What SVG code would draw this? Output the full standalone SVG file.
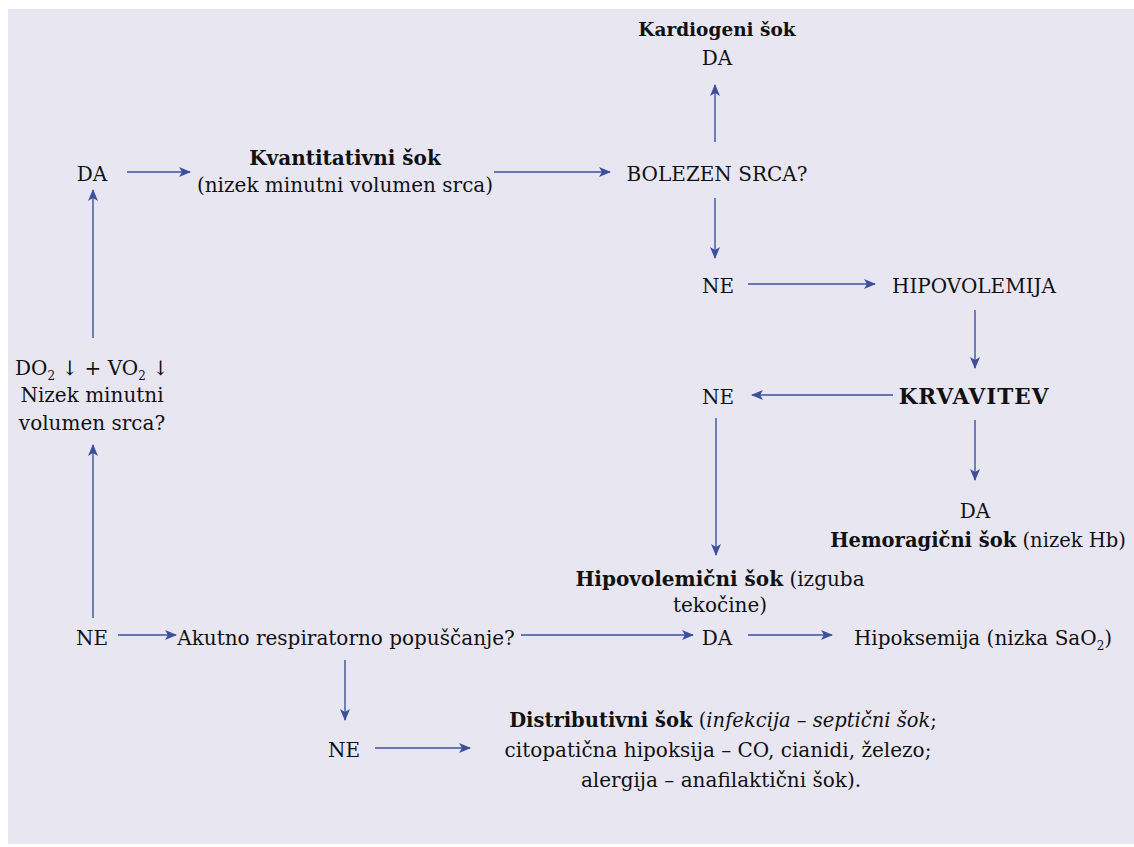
<svg xmlns="http://www.w3.org/2000/svg" width="1134" height="847" viewBox="0 0 1134 847">
<defs>
<marker id="ah" viewBox="0 0 12 10" markerWidth="12" markerHeight="10" refX="11" refY="5" orient="auto" markerUnits="userSpaceOnUse">
<path d="M0,0 L12,5 L0,10 L3,5 z" fill="#3c4f9f"/>
</marker>
<style>
text{font-family:"DejaVu Serif","Liberation Serif",serif;font-size:20px;fill:#111;text-anchor:middle}
.b{font-weight:bold}
.i{font-style:italic}
.s{font-size:12px}
.c line{stroke:#3c4f9f;stroke-width:1.4;marker-end:url(#ah)}
</style>
</defs>
<rect x="0" y="0" width="1134" height="847" fill="#ffffff"/>
<rect x="8" y="9" width="1126" height="835" fill="#e8e6f1"/>
<g class="c" id="connectors">
<line x1="715" y1="142" x2="715" y2="85"/>
<line x1="715" y1="198" x2="715" y2="258"/>
<line x1="748" y1="284" x2="875" y2="284"/>
<line x1="975" y1="310" x2="975" y2="368"/>
<line x1="893" y1="395" x2="752" y2="395"/>
<line x1="716" y1="418" x2="716" y2="555"/>
<line x1="975" y1="420" x2="975" y2="480"/>
<line x1="93" y1="618" x2="93" y2="445"/>
<line x1="93" y1="338" x2="93" y2="190"/>
<line x1="127" y1="172" x2="190" y2="172"/>
<line x1="494" y1="172" x2="610" y2="172"/>
<line x1="118" y1="635" x2="176" y2="635"/>
<line x1="521" y1="635" x2="693" y2="635"/>
<line x1="748" y1="635" x2="832" y2="635"/>
<line x1="345" y1="660" x2="345" y2="720"/>
<line x1="375" y1="748" x2="470" y2="748"/>
</g>
<g id="kardiogeni"><text x="717" y="36" class="b" style="font-size:18.5px">Kardiogeni šok</text><text x="717" y="65">DA</text></g>
<g id="bolezen"><text x="717" y="181">BOLEZEN SRCA?</text></g>
<g id="ne1"><text x="718" y="293">NE</text></g>
<g id="hipovolemija"><text x="974" y="293">HIPOVOLEMIJA</text></g>
<g id="krvavitev"><text x="974" y="404" class="b" style="font-size:21.5px;letter-spacing:1px">KRVAVITEV</text></g>
<g id="ne2"><text x="718" y="404">NE</text></g>
<g id="hemoragicni"><text x="975" y="518">DA</text><text x="978" y="547" style="font-size:19.5px"><tspan class="b">Hemoragični šok</tspan> (nizek Hb)</text></g>
<g id="hipovolemicni"><text x="720" y="586"><tspan class="b">Hipovolemični šok</tspan> (izguba</text><text x="720" y="612">tekočine)</text></g>
<g id="da-left"><text x="92" y="181">DA</text></g>
<g id="kvantitativni"><text x="345" y="165" class="b">Kvantitativni šok</text><text x="345" y="192">(nizek minutni volumen srca)</text></g>
<g id="do2"><text x="92" y="375">DO<tspan class="s" dy="5">2</tspan><tspan dy="-5"> ↓ + VO</tspan><tspan class="s" dy="5">2</tspan><tspan dy="-5"> ↓</tspan></text><text x="92" y="402">Nizek minutni</text><text x="92" y="430">volumen srca?</text></g>
<g id="ne3"><text x="92" y="645">NE</text></g>
<g id="akutno"><text x="346" y="645">Akutno respiratorno popuščanje?</text></g>
<g id="da3"><text x="717" y="645">DA</text></g>
<g id="hipoksemija"><text x="983" y="645">Hipoksemija (nizka SaO<tspan class="s" dy="5">2</tspan><tspan dy="-5">)</tspan></text></g>
<g id="ne4"><text x="344" y="757">NE</text></g>
<g id="distributivni"><text x="723" y="727" style="font-size:19.5px"><tspan class="b">Distributivni šok</tspan> (<tspan class="i">infekcija – septični šok</tspan>;</text><text x="718" y="757">citopatična hipoksija – CO, cianidi, železo;</text><text x="721" y="787">alergija – anafilaktični šok).</text></g>
</svg>
